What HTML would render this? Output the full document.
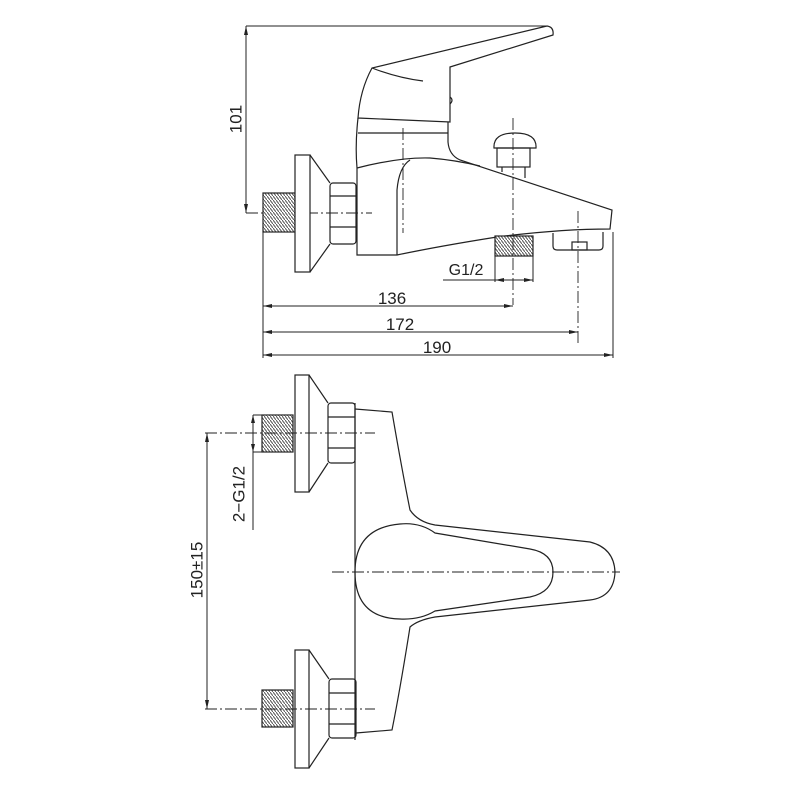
<!DOCTYPE html>
<html><head><meta charset="utf-8"><style>
html,body{margin:0;padding:0;background:#fff}
svg{display:block}
text{font-family:"Liberation Sans",sans-serif;fill:#222}
</style></head><body>
<svg width="800" height="800" viewBox="0 0 800 800" xmlns="http://www.w3.org/2000/svg">
<defs>
<pattern id="th" width="3" height="4" patternUnits="userSpaceOnUse">
<rect width="3" height="4" fill="#fff"/><path d="M0 0 L3 4" stroke="#555" stroke-width="1"/>
</pattern>
</defs>
<g fill="none" stroke="#222" stroke-width="1.2">
<!-- ===== TOP VIEW ===== -->
<!-- 101 dimension -->
<line x1="246" y1="26" x2="547" y2="26" stroke-width="1"/>
<line x1="246" y1="26" x2="246" y2="213" stroke-width="1"/>
<line x1="246" y1="213" x2="372" y2="213" stroke-width="1" stroke-dasharray="12,3,2,3"/>
<!-- thread -->
<rect x="263" y="193" width="32" height="39" fill="url(#th)"/>
<!-- flange -->
<rect x="295" y="155" width="15" height="117" fill="#fff"/>
<path d="M310 155 L330 183 M310 272 L330 244"/>
<!-- hex -->
<rect x="330" y="183" width="26" height="61" rx="3"/>
<path d="M330 196 H356 M330 227 H356"/>
<!-- lever -->
<path d="M358 118 Q360 90 372 68 L547 26 Q554 27 553 35 L450 67 L450 122 Z"/>
<path d="M372 68 Q398 78 423 81"/>
<path d="M450 97 Q454 100 450 104"/>
<!-- valve body -->
<path d="M358 118 Q355 145 357 168 L357 255 L397 255 Q440 246 497 237 Q560 229 610 229 L612 210 L460 160 Q449 155 448 142 L448 122"/>
<path d="M358 133 H448"/>
<path d="M357 168 Q400 157 430 158 Q455 160 480 166"/>
<path d="M410 160 Q399 167 397 190 L397 255"/>
<!-- knob -->
<path d="M494 148 Q493 133 515 133 Q537 133 536 148 Z"/>
<rect x="497" y="148" width="33" height="19"/>
<path d="M502 167 V172 M525 167 V178"/>
<!-- outlet thread -->
<rect x="495" y="236" width="38" height="20" fill="url(#th)"/>
<!-- spout end -->
<path d="M553 233 V246 Q553 250 557 250 H599 Q603 250 603 246 V232"/>
<rect x="572" y="242" width="15" height="8"/>
<!-- centerlines -->
<g stroke-width="0.9" stroke-dasharray="12,3,2,3">
<line x1="403" y1="128" x2="403" y2="233"/>
<line x1="513" y1="118" x2="513" y2="305"/>
<line x1="578" y1="211" x2="578" y2="345"/>
</g>
<!-- G1/2 -->
<g stroke-width="1">
<line x1="495" y1="256" x2="495" y2="282"/>
<line x1="533" y1="256" x2="533" y2="282"/>
<line x1="443" y1="280" x2="533" y2="280"/>
<line x1="263" y1="232" x2="263" y2="358"/>
<line x1="613" y1="232" x2="613" y2="358"/>
<line x1="263" y1="306" x2="513" y2="306"/>
<line x1="263" y1="332" x2="578" y2="332"/>
<line x1="263" y1="355" x2="613" y2="355"/>
</g>
</g>
<g fill="#222">
<path d="M246 26 l-2 9 h4z M246 213 l-2 -9 h4z"/>
<path d="M263 306 l9 -2 v4z M513 306 l-9 -2 v4z"/>
<path d="M263 332 l9 -2 v4z M578 332 l-9 -2 v4z"/>
<path d="M263 355 l9 -2 v4z M613 355 l-9 -2 v4z"/>
<path d="M495 280 l9 -2 v4z M533 280 l-9 -2 v4z"/>
</g>
<text x="237" y="119" font-size="17" text-anchor="middle" transform="rotate(-90 237 119)" dominant-baseline="middle">101</text>
<text x="466" y="275" font-size="16" text-anchor="middle">G1/2</text>
<text x="392" y="304" font-size="17" text-anchor="middle">136</text>
<text x="400" y="330" font-size="17" text-anchor="middle">172</text>
<text x="437" y="353" font-size="17" text-anchor="middle">190</text>

<!-- ===== BOTTOM VIEW ===== -->
<g fill="none" stroke="#222" stroke-width="1.2">
<rect x="262" y="415" width="31" height="37" fill="url(#th)"/>
<rect x="295" y="375" width="14" height="117" fill="#fff"/>
<path d="M309 375 L328 403 M309 492 L328 463"/>
<rect x="328" y="403" width="27" height="60" rx="3"/>
<path d="M328 417 H355 M328 448 H355"/>

<rect x="262" y="690" width="31" height="37" fill="url(#th)"/>
<rect x="295" y="650" width="14" height="118" fill="#fff"/>
<path d="M309 650 L329 679 M309 768 L329 738"/>
<rect x="329" y="679" width="27" height="59" rx="3"/>
<path d="M329 693 H356 M329 724 H356"/>

<line x1="355" y1="403" x2="355" y2="740"/>
<path d="M355 409 L392 412 Q402 470 410 510 Q418 522 435 525 L590 542 Q614 548 615 572 Q614 597 590 600 L435 617 Q418 620 410 627 Q400 690 392 730 L356 733"/>
<path d="M435 533 Q420 522 400 524 Q355 528 355 572 Q355 618 400 619 Q420 620 435 611 L530 597 Q553 592 553 572 Q553 553 530 549 Z"/>
<g stroke-width="0.9" stroke-dasharray="12,3,2,3">
<line x1="205" y1="433" x2="375" y2="433"/>
<line x1="205" y1="709" x2="375" y2="709"/>
<line x1="332" y1="572" x2="620" y2="572"/>
</g>
<g stroke-width="1">
<line x1="207" y1="433" x2="207" y2="709"/>
<line x1="253" y1="415" x2="253" y2="530"/>
<line x1="253" y1="415" x2="262" y2="415"/>
<line x1="253" y1="452" x2="262" y2="452"/>
</g>
</g>
<g fill="#222">
<path d="M207 433 l-2 9 h4z M207 709 l-2 -9 h4z"/>
<path d="M253 415 l-2 8 h4z M253 452 l-2 -8 h4z"/>
</g>
<text x="240" y="494" font-size="17" text-anchor="middle" transform="rotate(-90 240 494)" dominant-baseline="middle">2−G1/2</text>
<text x="198" y="570" font-size="17" text-anchor="middle" transform="rotate(-90 198 570)" dominant-baseline="middle">150±15</text>
</svg>
</body></html>
